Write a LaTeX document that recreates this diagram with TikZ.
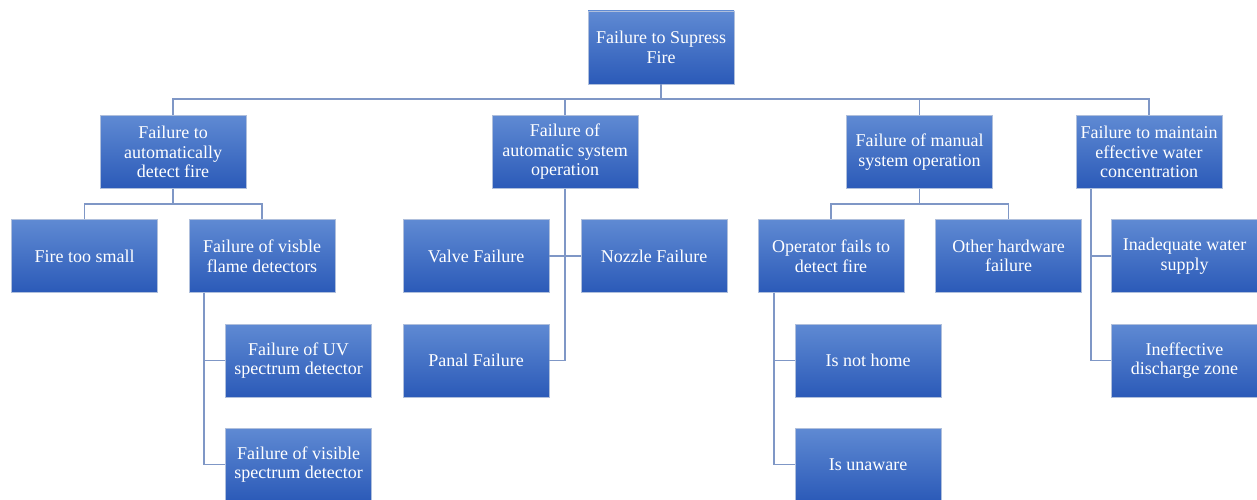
\documentclass[tikz,border=0pt]{standalone}
\usepackage{fontspec}
\setmainfont{Liberation Serif}
\definecolor{boxtop}{HTML}{5F8AD3}
\definecolor{boxbot}{HTML}{2B5AB8}
\definecolor{boxedge}{HTML}{AFBFDC}
\definecolor{linkc}{HTML}{7F97C6}
\begin{document}
\begin{tikzpicture}[x=1pt,y=-1pt,
  box/.style={draw=boxedge, line width=0.8pt, top color=boxtop, bottom color=boxbot,
    minimum width=146pt, minimum height=73pt, inner sep=1pt, align=center,
    text=white, font=\fontsize{18}{19.5}\selectfont},
  link/.style={draw=linkc, line width=1.6pt}]
\useasboundingbox (0,0) rectangle (1257,500);
% nodes
\node[box] (root) at (661,47.5) {Failure to Supress\\Fire};
\node[box] (A) at (173,152) {Failure to\\automatically\\detect fire};
\node[box] (B) at (565,152) {Failure of\\automatic system\\operation};
\node[box] (C) at (919.5,152) {Failure of manual\\system operation};
\node[box] (D) at (1149,152) {Failure to maintain\\effective water\\concentration};
\node[box] (FTS) at (84.5,256) {Fire too small};
\node[box] (FVF) at (262,256) {Failure of visble\\flame detectors};
\node[box] (UV) at (298.5,360.5) {Failure of UV\\spectrum detector};
\node[box] (VIS) at (298.5,464.5) {Failure of visible\\spectrum detector};
\node[box] (Valve) at (476,256) {Valve Failure};
\node[box] (Nozzle) at (654,256) {Nozzle Failure};
\node[box] (Panal) at (476,360.5) {Panal Failure};
\node[box] (Op) at (831,256) {Operator fails to\\detect fire};
\node[box] (Other) at (1008.5,256) {Other hardware\\failure};
\node[box] (NotHome) at (868,360.5) {Is not home};
\node[box] (Unaware) at (868,464.5) {Is unaware};
\node[box] (Inad) at (1184.5,256) {Inadequate water\\supply};
\node[box] (Ineff) at (1184.5,360.5) {Ineffective\\discharge zone};
% connectors
\path[link] (root.south) -- ++(0,16);
\path[link] (A.north) -- ++(0,-16) -| (D.north);
\path[link] (B.north) -- ++(0,-16);
\path[link] (C.north) -- ++(0,-16);
\path[link] (A.south) -- ++(0,16);
\path[link] (FTS.north) -- ++(0,-15) -| (FVF.north);
\path[link] ([xshift=-58pt]FVF.south) |- (UV.west);
\path[link] ([xshift=-58pt]FVF.south) |- (VIS.west);
\path[link] (B.south) |- (Panal.east);
\path[link] (Valve.east) -- (Nozzle.west);
\path[link] (C.south) -- ++(0,16);
\path[link] (Op.north) -- ++(0,-15) -| (Other.north);
\path[link] ([xshift=-57pt]Op.south) |- (NotHome.west);
\path[link] ([xshift=-57pt]Op.south) |- (Unaware.west);
\path[link] ([xshift=-58pt]D.south) |- (Inad.west);
\path[link] ([xshift=-58pt]D.south) |- (Ineff.west);
\end{tikzpicture}
\end{document}
